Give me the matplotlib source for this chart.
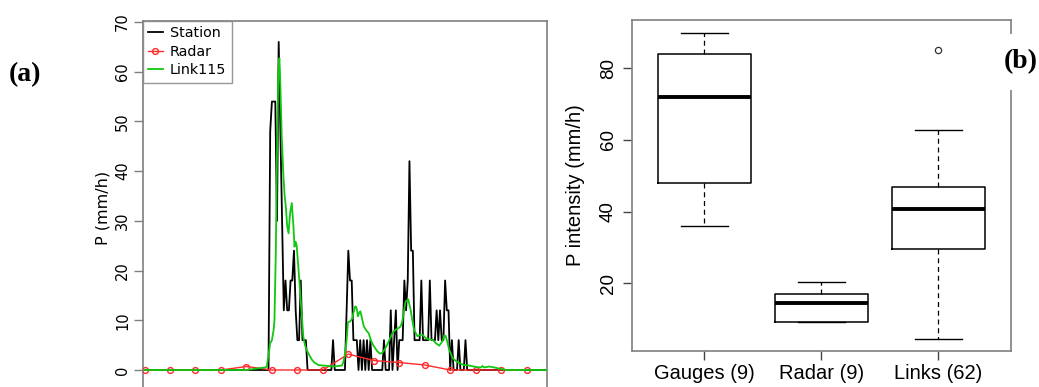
import numpy as np
import matplotlib
matplotlib.use("Agg")
import matplotlib.pyplot as plt

# ── DATA ────────────────────────────────────────────────────────────────────
# (a) time series, minutes from start of window
radar_t = [0, 15, 30, 45, 60, 75, 90, 105, 120, 135, 150, 165, 180, 195, 210, 225]
radar_v = [0, 0, 0, 0, 0.7, 0, 0, 0, 3.2, 1.9, 1.5, 1.0, 0, 0, 0, 0]

# station (tipping bucket, 1-min values), event part starting at minute 70
station_start = 70
station_event = [
    0, 0, 0, 0, 48, 54, 54, 54, 30, 66,          # 70-79
    48, 30, 12, 18, 12, 12, 18, 18, 24, 12,      # 80-89
    6, 6, 18, 6, 6, 6, 0, 0, 0, 0,               # 90-99
    0, 0, 0, 0, 0, 0, 0, 0, 0, 0,                # 100-109
    0, 6, 0, 0, 0, 0, 0, 0, 0, 12,               # 110-119
    24, 18, 18, 6, 6, 6, 0, 6, 0, 6,             # 120-129
    0, 6, 0, 6, 0, 0, 0, 0, 0, 0,                # 130-139
    0, 6, 0, 0, 0, 12, 0, 6, 12, 0,              # 140-149
    6, 6, 6, 18, 12, 18, 42, 24, 24, 6,          # 150-159
    6, 6, 6, 18, 6, 6, 6, 6, 18, 6,              # 160-169
    6, 6, 12, 6, 12, 6, 6, 18, 12, 12,           # 170-179
    0, 6, 0, 0, 0, 6, 0, 0, 0, 6,                # 180-189
    0, 0, 0,                                     # 190-192
]
station_t = np.arange(0, 238)
station_v = np.zeros(len(station_t))
station_v[station_start:station_start + len(station_event)] = station_event

link_t = [0, 60, 66, 71, 72, 73, 74, 75, 76, 76.5, 77.3, 78, 78.8, 79.4, 80,
          80.8, 81.8, 82.5, 83.2, 84, 84.8, 85.7, 86.7, 87.7, 88.3, 89, 89.6,
          90.5, 91.6, 92.6, 93.5, 94.5, 95.5, 97, 98.5, 100, 102.4, 105, 108,
          111, 114, 116.2, 117, 117.8, 119, 119.7, 120.4, 121.2, 122.2, 123,
          124.1, 124.6, 125.1, 125.6, 126.5, 127.1, 128, 129.1, 130.5, 132,
          133.5, 135, 137, 138.5, 139.9, 141.5, 142.9, 144.5, 145.9, 147.8,
          149.5, 150.8, 151.8, 152.8, 153.8, 155.3, 156.7, 157.7, 158.7, 160.7,
          162, 163.6, 165.6, 167, 168.6, 170, 171.5, 173.5, 175.5, 176.5, 177.4,
          178.4, 179.4, 181.4, 183.4, 185.3, 188, 191.3, 195, 198, 199, 200,
          203, 206, 210, 213, 237]
link_v = [0, 0, 0.3, 0.5, 0.7, 3, 5.4, 6, 8, 10, 23.5, 43.6, 60, 62.7, 57,
          47, 38.9, 35, 32.9, 29, 27.5, 31.5, 33.6, 28.8, 24.8, 25.8, 25,
          21, 16, 11, 6.7, 5, 4, 3, 2.1, 1.5, 1.0, 0.9, 0.8,
          0.7, 0.8, 0.9, 1.5, 2.8, 6, 9.5, 9.7, 9.8, 10.3, 11.5,
          12.8, 12.7, 12.1, 10.8, 11.5, 11.8, 10.5, 8.8, 8, 7.4,
          5.8, 4.8, 3.8, 3.3, 3.4, 4.2, 5.1, 6.3, 7.4, 8.1,
          8.4, 8.8, 9.8, 12, 13.8, 14.2, 12.1, 10, 8.1, 6.8,
          7.0, 7.1, 6.4, 6.2, 6.1, 6, 5.4, 4.9, 5.8, 7, 6.8,
          5.5, 4.1, 2.4, 1.8, 1.4, 1.0, 0.9, 0.6, 0.5, 0.8, 0.5,
          0.7, 0.5, 0.2, 0, 0]

# (b) box plot statistics
groups = ["Gauges (9)", "Radar (9)", "Links (62)"]
whis_lo = [36.1, 9.3, 4.5]
q1s = [48.1, 9.3, 29.65]
medians = [72.0, 14.6, 40.6]
q3s = [83.9, 17.1, 47.0]
whis_hi = [89.85, 20.45, 62.9]
outliers = [[], [], [85.1]]

# ── FIGURE ──────────────────────────────────────────────────────────────────
W, H = 1039, 387
fig = plt.figure(figsize=(W / 100, H / 100), dpi=100, facecolor="white")

FRAME = "#7f7f7f"

# ---- (a) ----
ax1 = fig.add_axes([142.5 / W, -0.02, 404.5 / W, 374 / H])
ax1.plot(station_t, station_v, color="black", lw=1.3, label="Station", zorder=2)
ax1.plot(radar_t, radar_v, color="#ff2a2a", lw=1.0, marker="o", ms=4.2,
         mfc="none", mec="#ff2a2a", mew=1.0, label="Radar", zorder=3)
ax1.plot(link_t, link_v, color="#10c810", lw=1.3, label="Link115", zorder=4)
ax1.set_xlim(-1.2, 237)
ax1.set_ylim(-4.98, 70.26)
ax1.set_yticks(range(0, 71, 10))
ax1.tick_params(axis="y", length=6.5, width=1, color=FRAME, pad=2.4,
                labelsize=10.5)
for lab in ax1.get_yticklabels():
    lab.set_rotation(90)
    lab.set_va("center")
ax1.set_xticks([])
for side in ("left", "top", "right"):
    ax1.spines[side].set_color(FRAME)
    ax1.spines[side].set_linewidth(1.2)
ax1.spines["bottom"].set_visible(False)
ax1.set_ylabel("P (mm/h)", fontsize=11.5)
ax1.yaxis.set_label_coords(-0.078, 0.5)
leg = ax1.legend(loc="upper left", fontsize=10.3, frameon=True, fancybox=False,
                 borderaxespad=0, borderpad=0.4, labelspacing=0.3,
                 handlelength=1.0, handletextpad=0.5, numpoints=1)
leg.get_frame().set_edgecolor(FRAME)
leg.get_frame().set_linewidth(1.0)

fig.text(25 / W, 1 - 75 / H, "(a)", fontsize=20, fontweight="bold",
         family="Liberation Serif", ha="center", va="center")

# ---- (b) ----
ax2 = fig.add_axes([632 / W, 1 - 351 / H, 379 / W, 331 / H])
stats = []
for i in range(len(groups)):
    stats.append(dict(whislo=whis_lo[i], q1=q1s[i], med=medians[i],
                      q3=q3s[i], whishi=whis_hi[i], fliers=outliers[i]))
ax2.bxp(stats, positions=[1, 2, 3], widths=0.8, capwidths=0.4,
        boxprops=dict(color="black", lw=1.1),
        medianprops=dict(color="black", lw=2.8, solid_capstyle="butt"),
        whiskerprops=dict(color="black", lw=0.9, linestyle=(0, (4, 3))),
        capprops=dict(color="black", lw=1.0),
        flierprops=dict(marker="o", mfc="none", mec="#333333", ms=4.5, mew=0.9))
ax2.set_xlim(0.382, 3.621)
ax2.set_ylim(1.11, 93.48)
ax2.set_yticks([20, 40, 60, 80])
ax2.set_xticks([1, 2, 3])
ax2.set_xticklabels(groups, family="Liberation Sans", fontsize=14.5)
ax2.tick_params(axis="x", length=6.5, width=1, color="#444444", pad=3)
ax2.tick_params(axis="y", length=6.5, width=1, color="#444444", pad=4.5)
for lab in ax2.get_yticklabels():
    lab.set_rotation(90)
    lab.set_va("center")
    lab.set_family("Liberation Sans")
    lab.set_fontsize(13.5)
for sp in ax2.spines.values():
    sp.set_color(FRAME)
    sp.set_linewidth(1.2)
ax2.set_ylabel("P intensity (mm/h)", family="Liberation Sans", fontsize=14.5)
ax2.yaxis.set_label_coords(-0.125, 0.5)

fig.text(1021 / W, 1 - 62 / H, "(b)", fontsize=20, fontweight="bold",
         family="Liberation Serif", ha="center", va="center", zorder=10,
         bbox=dict(facecolor="white", edgecolor="none", pad=11))

fig.savefig("out.png", dpi=100, facecolor="white")
